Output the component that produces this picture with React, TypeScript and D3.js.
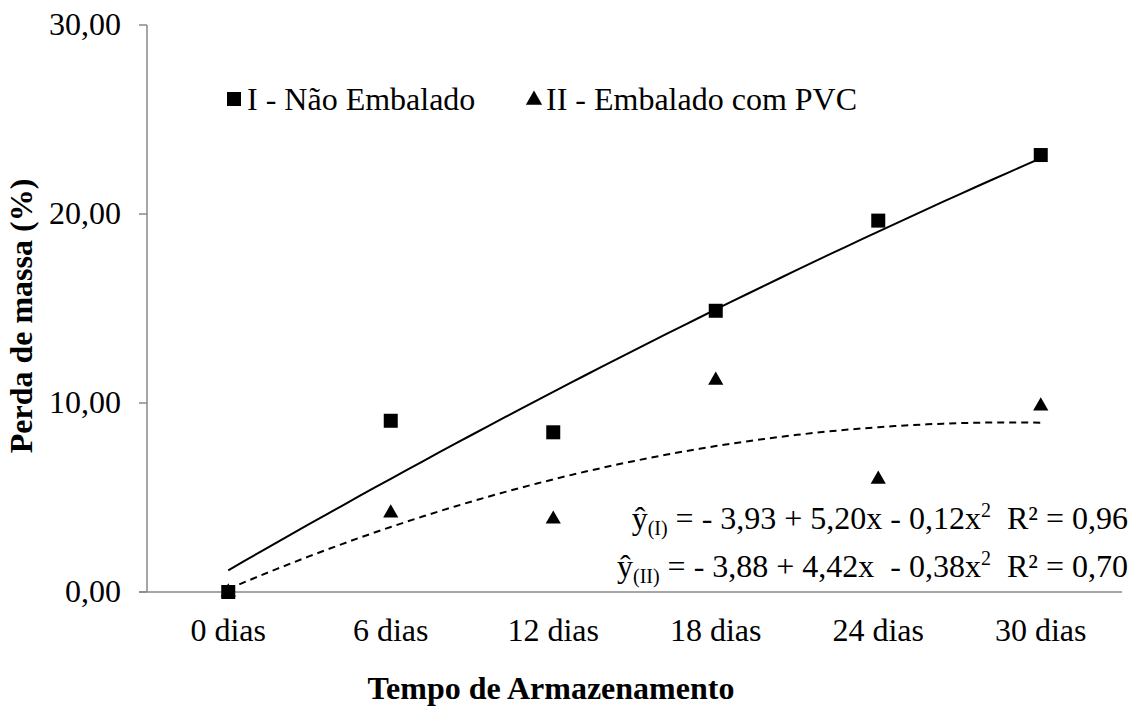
import React from "react";
import * as d3 from "d3";

const categories = ["0 dias", "6 dias", "12 dias", "18 dias", "24 dias", "30 dias"];
const naoEmbalado = [0, 9.06, 8.45, 14.88, 19.65, 23.12];
const embaladoPVC = [0, 4.18, 3.85, 11.2, 5.96, 9.84];
const yTicks = [0, 10, 20, 30];
// trendline coefficients [a, b, c] for y = a + b x + c x^2, x = 1..6
const coefI = [-3.93, 5.2, -0.12];
const coefII = [-3.88, 4.42, -0.38];

const W = 1138, H = 706;
const left = 147, right = 1122, top = 25, bottom = 592;
const FS = 32;

export default function App() {
  const x = d3.scaleBand<string>().domain(categories).range([left, right]);
  const cx = (i: number) => (x(categories[i]) as number) + x.bandwidth() / 2;
  const y = d3.scaleLinear().domain([0, 30]).range([bottom, top]);
  const xi = d3.scaleLinear().domain([1, 6]).range([cx(0), cx(5)]);
  const fmt = (v: number) => v.toFixed(2).replace(".", ",");
  const samples = d3.range(0, 51).map((k) => 1 + (5 * k) / 50);
  const line = (c: number[]) =>
    d3.line<number>().x((t) => xi(t)).y((t) => y(c[0] + c[1] * t + c[2] * t * t))(samples) as string;
  const sq = 14;
  const tri = d3.symbol().type(d3.symbolTriangle).size(100)() as string;
  const axisColor = "#898989";
  const ts = { fontFamily: '"Liberation Serif"' };

  return (
    <svg width={W} height={H} style={{ position: "absolute", left: 0, top: 0 }}>
      <rect width={W} height={H} fill="#fff" />
      {/* axes */}
      <line x1={left} x2={left} y1={top} y2={bottom} stroke={axisColor} strokeWidth={1.5} />
      <line x1={left - 8} x2={right} y1={bottom} y2={bottom} stroke={axisColor} strokeWidth={1.5} />
      {yTicks.map((t) => (
        <g key={t}>
          <line x1={left - 8} x2={left} y1={y(t)} y2={y(t)} stroke={axisColor} strokeWidth={1.5} />
          <text x={121} y={y(t) + 10} textAnchor="end" fontSize={FS} style={ts}>{fmt(t)}</text>
        </g>
      ))}
      {categories.map((c, i) => (
        <text key={c} x={cx(i)} y={641} textAnchor="middle" fontSize={FS} style={ts}>{c}</text>
      ))}
      {/* trendlines */}
      <path d={line(coefI)} fill="none" stroke="#000" strokeWidth={2} />
      <path d={line(coefII)} fill="none" stroke="#000" strokeWidth={2} strokeDasharray="7,5" />
      {/* points */}
      {embaladoPVC.map((v, i) => (
        <path key={"t" + i} d={tri} transform={`translate(${cx(i)},${y(v)})`} fill="#000" />
      ))}
      {naoEmbalado.map((v, i) => (
        <rect key={"s" + i} x={cx(i) - sq / 2} y={y(v) - sq / 2} width={sq} height={sq} fill="#000" />
      ))}
      {/* legend */}
      <rect x={227} y={92} width={14} height={14} fill="#000" />
      <text x={247} y={110} fontSize={FS} style={ts}>I - Não Embalado</text>
      <path d={d3.symbol().type(d3.symbolTriangle).size(115)() as string} transform="translate(534,100)" fill="#000" />
      <text x={546} y={110} fontSize={FS} style={ts}>II - Embalado com PVC</text>
      {/* equations */}
      <text x={1128} y={529} textAnchor="end" fontSize={FS} style={ts} xmlSpace="preserve">
        <tspan>ŷ</tspan>
        <tspan fontSize={20} dy={6}>(I)</tspan>
        <tspan dy={-6}>{" = - 3,93 + 5,20x - 0,12x"}</tspan>
        <tspan fontSize={20} dy={-12}>2</tspan>
        <tspan dy={12}>{"  R² = 0,96"}</tspan>
      </text>
      <text x={1128} y={577} textAnchor="end" fontSize={FS} style={ts} xmlSpace="preserve">
        <tspan>ŷ</tspan>
        <tspan fontSize={20} dy={6}>(II)</tspan>
        <tspan dy={-6}>{" = - 3,88 + 4,42x  - 0,38x"}</tspan>
        <tspan fontSize={20} dy={-12}>2</tspan>
        <tspan dy={12}>{"  R² = 0,70"}</tspan>
      </text>
      {/* titles */}
      <text x={551} y={699} textAnchor="middle" fontSize={FS} fontWeight="bold" style={ts}>Tempo de Armazenamento</text>
      <text transform="translate(32,316) rotate(-90)" textAnchor="middle" fontSize={FS} fontWeight="bold" style={ts}>Perda de massa (%)</text>
    </svg>
  );
}
